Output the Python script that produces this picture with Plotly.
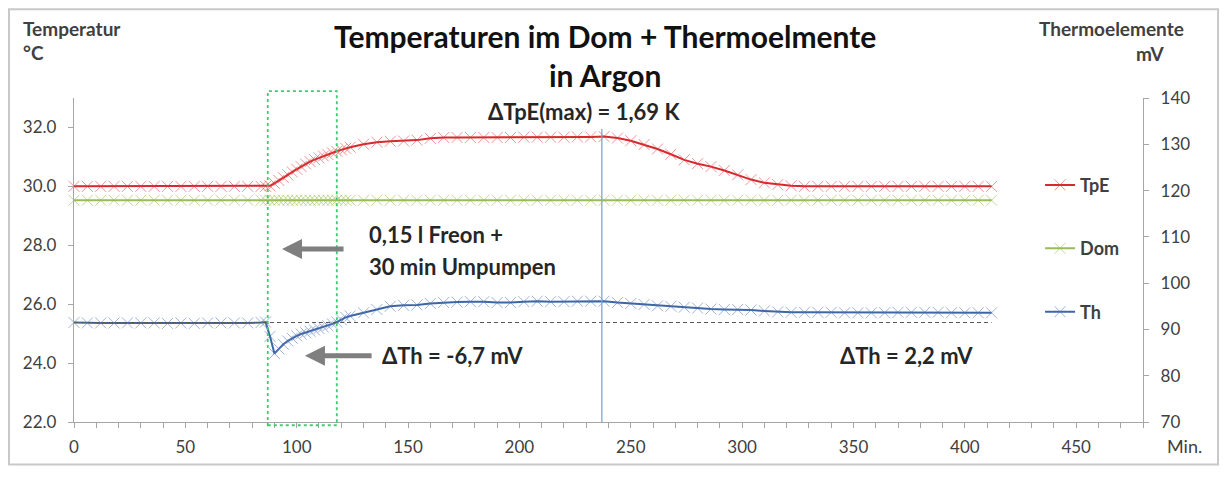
"""Temperaturverlauf im Dom und Thermoelement-Spannung in Argon."""

import plotly.graph_objects as go

# Messzeitpunkte (Minuten)
minutes = [
    0, 6, 12, 18, 24, 30, 36, 42, 48, 54, 60, 66, 72, 78, 84,
    86, 88, 90, 92, 94, 96, 98, 100, 102, 104, 106, 108, 110, 112, 114,
    116, 118, 120, 122, 124,
    130, 136, 142, 148, 154, 160, 166, 172, 178, 184, 190, 196, 202, 208,
    214, 220, 226, 232, 238, 244, 250, 256, 262, 268, 274, 280, 286, 292,
    298, 304, 310, 316, 322, 328, 334, 340, 346, 352, 358, 364, 370, 376,
    382, 388, 394, 400, 406, 412,
]

# TpE in °C (linke Achse)
tpe_c = [
    30.0, 30.0, 30.0, 30.0, 30.0, 30.0, 30.0, 30.0, 30.0, 30.0, 30.0, 30.0,
    30.0, 30.0, 30.0,
    30.0, 30.02, 30.1, 30.2, 30.3, 30.39, 30.49, 30.58, 30.67, 30.76, 30.84,
    30.91, 30.97, 31.03, 31.08, 31.14, 31.19, 31.24, 31.29, 31.33,
    31.43, 31.5, 31.53, 31.54, 31.57, 31.63, 31.66, 31.66, 31.66, 31.66,
    31.66, 31.66, 31.67, 31.67, 31.67, 31.67, 31.68, 31.68, 31.69, 31.64,
    31.55, 31.42, 31.27, 31.09, 30.9, 30.77, 30.67, 30.54, 30.39, 30.23,
    30.12, 30.06, 30.02, 30.0, 30.0, 30.0, 30.0, 30.0, 30.0, 30.0, 30.0,
    30.0, 30.0, 30.0, 30.0, 30.0, 30.0, 30.0,
]

# Dom in °C (linke Achse)
dom_c = [
    29.53, 29.53, 29.53, 29.53, 29.53, 29.53, 29.53, 29.53, 29.53, 29.53,
    29.53, 29.53, 29.53, 29.53, 29.53,
    29.53, 29.53, 29.53, 29.53, 29.53, 29.53, 29.53, 29.53, 29.53, 29.53,
    29.53, 29.53, 29.53, 29.53, 29.53, 29.53, 29.53, 29.53, 29.53, 29.53,
    29.53, 29.53, 29.53, 29.53, 29.53, 29.53, 29.53, 29.53, 29.53, 29.53,
    29.53, 29.53, 29.53, 29.53, 29.53, 29.53, 29.53, 29.53, 29.53, 29.53,
    29.53, 29.53, 29.53, 29.53, 29.53, 29.53, 29.53, 29.53, 29.53, 29.53,
    29.53, 29.53, 29.53, 29.53, 29.53, 29.53, 29.53, 29.53, 29.53, 29.53,
    29.53, 29.53, 29.53, 29.53, 29.53, 29.53, 29.53, 29.53,
]

# Thermoelement in mV (rechte Achse)
th_mv = [
    91.5, 91.4, 91.4, 91.4, 91.4, 91.4, 91.4, 91.3, 91.4, 91.3, 91.4, 91.4,
    91.4, 91.4, 91.5,
    91.6, 88.5, 84.8, 85.8, 86.8, 87.5, 88.1, 88.6, 89.0, 89.3, 89.6, 89.9,
    90.2, 90.5, 90.8, 91.2, 91.6, 92.1, 92.6, 92.9,
    93.6, 94.3, 95.0, 95.2, 95.3, 95.6, 95.8, 95.9, 96.0, 96.0, 95.8, 95.8,
    96.0, 96.1, 96.0, 96.0, 96.1, 96.1, 96.1, 95.8, 95.6, 95.4, 95.1, 95.0,
    94.8, 94.6, 94.4, 94.3, 94.3, 94.2, 94.0, 93.8, 93.7, 93.7, 93.7, 93.7,
    93.6, 93.6, 93.6, 93.6, 93.7, 93.7, 93.7, 93.7, 93.6, 93.6, 93.6, 93.6,
]

# Ausgangsniveau Thermoelement (gestrichelt)
baseline_minutes = [0, 412]
baseline_mv = [91.5, 91.5]

tpe_max_minute = 237
tpe_max_c = 31.95

FONT = "Lato"
TEXT = "#262626"
AXIS = "#A6A6A6"
TICK_TEXT = "#404040"

fig = go.Figure()


def add_series(name, y, color, marker_color, yaxis):
    fig.add_trace(
        go.Scatter(
            x=minutes,
            y=y,
            name=name,
            yaxis=yaxis,
            mode="lines+markers",
            line={"color": color, "width": 2},
            marker={
                "symbol": "x-thin",
                "size": 11,
                "line": {"color": marker_color, "width": 1},
            },
            legendgroup=name,
            cliponaxis=False,
        )
    )


add_series("TpE", tpe_c, "#D42A2F", "rgba(220,60,60,0.55)", "y")
add_series("Dom", dom_c, "#9BBB59", "rgba(150,190,80,0.6)", "y")
add_series("Th", th_mv, "#3D66A5", "rgba(80,115,180,0.55)", "y2")

fig.add_trace(
    go.Scatter(
        x=baseline_minutes,
        y=baseline_mv,
        yaxis="y2",
        mode="lines",
        line={"color": "#595959", "width": 1.2, "dash": "4px,3px"},
        showlegend=False,
        hoverinfo="skip",
    )
)

# Rahmen um Freon-Phase
fig.add_shape(
    type="rect",
    xref="x",
    yref="paper",
    x0=87,
    x1=118,
    y0=-0.01,
    y1=1.021,
    line={"color": "#3FCB72", "width": 1.8, "dash": "3px,3px"},
)
# Zeitpunkt TpE-Maximum
fig.add_shape(
    type="line",
    xref="x",
    yref="y",
    x0=tpe_max_minute,
    x1=tpe_max_minute,
    y0=22,
    y1=tpe_max_c,
    line={"color": "#7DA7D9", "width": 1.3},
)
# Äußerer Rahmen
fig.add_shape(
    type="rect",
    xref="paper",
    yref="paper",
    x0=-0.0608,
    x1=1.0702,
    y0=-0.1315,
    y1=1.2737,
    line={"color": "#C8C8C8", "width": 2},
)

annotations = [
    # Titel
    dict(xref="paper", yref="paper", x=0.4967, y=1.13,
         text="<b>Temperaturen im Dom + Thermoelmente<br>in Argon</b>",
         font={"size": 30, "color": "#111111"}),
    # Achsentitel
    dict(xref="paper", yref="paper", x=-0.0496, y=1.214, xanchor="left",
         text="<b>Temperatur</b>", font={"size": 19, "color": TICK_TEXT}),
    dict(xref="paper", yref="paper", x=-0.0496, y=1.1407, xanchor="left",
         text="<b>°C</b>", font={"size": 19, "color": TICK_TEXT}),
    dict(xref="paper", yref="paper", x=0.9008, y=1.214, xanchor="left",
         text="<b>Thermoelemente</b>", font={"size": 19, "color": TICK_TEXT}),
    dict(xref="paper", yref="paper", x=0.9916, y=1.1376, xanchor="left",
         text="<b>mV</b>", font={"size": 19, "color": TICK_TEXT}),
    dict(xref="paper", yref="paper", x=1.0206, y=-0.0734, xanchor="left",
         text="Min.", font={"size": 18, "color": TICK_TEXT}),
    # Textmarken im Diagramm
    dict(x=229, y=32.53, text="<b>ΔTpE(max) = 1,69 K</b>",
         font={"size": 22, "color": TEXT}),
    dict(x=131.6, y=28.36, xanchor="left", text="<b>0,15 l Freon +</b>",
         font={"size": 22, "color": TEXT}),
    dict(x=131.6, y=27.28, xanchor="left", text="<b>30 min Umpumpen</b>",
         font={"size": 22, "color": TEXT}),
    dict(x=137.4, y=24.25, xanchor="left", text="<b>ΔTh = -6,7 mV</b>",
         font={"size": 22, "color": TEXT}),
    dict(x=343.1, y=24.25, xanchor="left", text="<b>ΔTh = 2,2 mV</b>",
         font={"size": 22, "color": TEXT}),
]
for item in annotations:
    item.setdefault("showarrow", False)
    item.setdefault("yanchor", "middle")
    fig.add_annotation(**item)

# Pfeile
for head_x, tail_x, level in [(93.4, 121.7, 27.87), (103.7, 134.3, 24.25)]:
    fig.add_annotation(
        x=head_x, y=level, ax=tail_x, ay=level,
        xref="x", yref="y", axref="x", ayref="y",
        text="", showarrow=True,
        arrowhead=2, arrowsize=0.8, arrowwidth=5, arrowcolor="#7F7F7F",
        standoff=0, startstandoff=0,
    )

axis_common = dict(
    showgrid=False,
    zeroline=False,
    showline=True,
    linecolor=AXIS,
    linewidth=1.3,
    ticks="outside",
    ticklen=5,
    tickcolor=AXIS,
    tickfont={"size": 17, "color": TICK_TEXT},
)

# Seite hat 8 px Body-Rand, daher Figur 16 px kleiner als das Fenster
fig.update_layout(
    width=1211,
    height=461,
    autosize=False,
    margin={"l": 66, "r": 76, "t": 90, "b": 44},
    paper_bgcolor="white",
    plot_bgcolor="white",
    font={"family": FONT, "color": TEXT},
    xaxis=dict(
        axis_common,
        range=[0, 480],
        dtick=50,
        tick0=0,
        ticklabelstandoff=4,
        minor={"dtick": 10, "ticks": "outside", "ticklen": 5, "tickcolor": AXIS},
    ),
    yaxis=dict(
        axis_common,
        range=[22, 33],
        dtick=2,
        tick0=22,
        tickformat=".1f",
        ticklabelstandoff=8,
    ),
    yaxis2=dict(
        axis_common,
        range=[70, 140],
        dtick=10,
        tick0=70,
        overlaying="y",
        side="right",
        ticklabelstandoff=8,
    ),
    legend=dict(
        x=0.9037,
        y=0.788,
        xanchor="left",
        yanchor="top",
        bgcolor="rgba(0,0,0,0)",
        font={"size": 18, "color": TICK_TEXT, "family": FONT, "weight": "bold"},
        tracegroupgap=37,
        itemwidth=30,
    ),
    showlegend=True,
)

fig.write_html("out.html")
